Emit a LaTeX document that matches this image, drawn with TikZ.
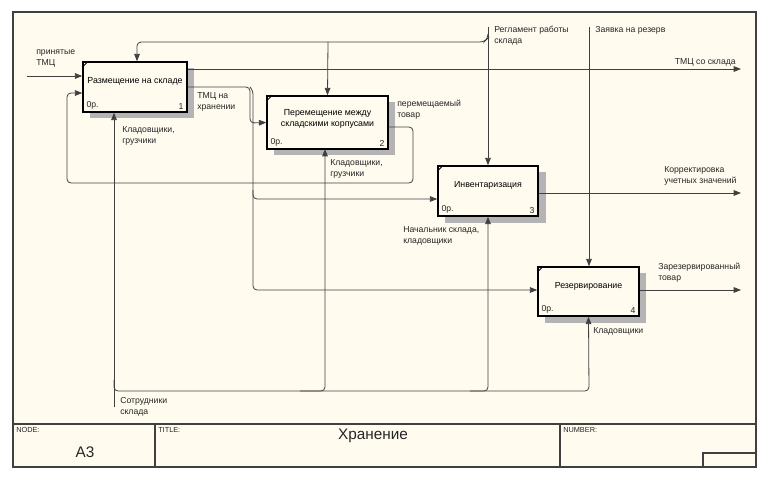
\documentclass[tikz,border=0pt]{standalone}
\usepackage{fontspec}
\setmainfont{Liberation Sans}
\usetikzlibrary{arrows.meta,calc}
\definecolor{paper}{HTML}{FFFBEF}
\definecolor{ln}{HTML}{404040}
\definecolor{shd}{HTML}{B4B4B4}
\begin{document}
\begin{tikzpicture}[x=0.75pt,y=-0.75pt,
 lbl/.style={font=\fontsize{6.5}{8.2}\selectfont, align=left, inner sep=0pt, text=black!85},
 pbox/.style={draw=black, line width=1.1pt, fill=paper, inner sep=0pt, font=\fontsize{6.6}{8.4}\selectfont, align=center},
 shadow/.style={fill=shd, draw=none},
 arr/.style={draw=ln, line width=0.6pt, -{Triangle[length=5.5pt,width=4.2pt]}},
 conn/.style={draw=ln, line width=0.6pt},
 rc/.style={rounded corners=3pt},
 frm/.style={draw=ln, line width=0.8pt}]
\useasboundingbox (0,0) rectangle (768,480);
\fill[white] (0,0) rectangle (768,480);
% frame
\draw[frm, fill=paper] (13,12) rectangle (756,467);
\draw[frm] (13,424) -- (756,424);
\draw[frm] (155,424) -- (155,467);
\draw[frm] (560,424) -- (560,467);
\draw[frm] (703,453) rectangle (756,467);
\node[lbl, anchor=north west, font=\fontsize{5.5}{6}\selectfont] (tnode) at (16,427) {NODE:};
\node[lbl, anchor=north west, font=\fontsize{5.5}{6}\selectfont] (ttitle) at (158,427) {TITLE:};
\node[lbl, anchor=north west, font=\fontsize{5.5}{6}\selectfont] (tnum) at (563,427) {NUMBER:};
\node[lbl, font=\fontsize{11.5}{12}\selectfont] (tA) at (85,452) {A3};
\node[lbl, font=\fontsize{11.5}{12}\selectfont] (tT) at (373,436) {Хранение};
% shadows
\fill[shadow] (90,68) rectangle (194,118);
\fill[shadow] (274,102) rectangle (395,155);
\fill[shadow] (445,172) rectangle (546,223);
\fill[shadow] (545,273) rectangle (646,323);
% boxes
\node[pbox, minimum width=78pt, minimum height=37.5pt] (b1) at (135,87) {Размещение на складе\\[1pt]\mbox{}};
\node[pbox, minimum width=90.75pt, minimum height=39.75pt] (b2) at (327.5,122.5) {Перемещение между\\складскими корпусами\\[-2pt]\mbox{}};
\node[pbox, minimum width=75pt, minimum height=37.5pt] (b3) at (488,191) {Инвентаризация\\[1pt]\mbox{}};
\node[pbox, minimum width=75.75pt, minimum height=36.75pt] (b4) at (588.5,291.5) {Резервирование\\[1pt]\mbox{}};
\foreach \b/\n in {b1/1,b2/2,b3/3,b4/4}{
  \node[lbl, anchor=south west] (\b o) at ($(\b.south west)+(4,-3)$) {0р.};
  \node[lbl, anchor=south east] (\b n) at ($(\b.south east)+(-4,-3)$) {\n};
  \draw[black, line width=0.6pt] ($(\b.north west)+(0,6)$) -- ($(\b.north west)+(6,0)$);
}
% free ends
\coordinate (in1) at (27,76);
\coordinate (oR) at (741,0);
\coordinate (c1) at (488,27);
\coordinate (c2) at (589,27);
\coordinate (m1) at (114,407);
\coordinate (o1s) at ($(b1.east)+(0,-18)$);
\coordinate (o3s) at ($(b3.east)+(0,2)$);
\coordinate (o4s) at ($(b4.east)+(0,-1.5)$);
\coordinate (o2s) at ($(b2.east)+(0,4.5)$);
\coordinate (i1b) at ($(b1.west)+(0,6)$);
\coordinate (i3) at ($(b3.west)+(0,8)$);
\coordinate (i4) at ($(b4.west)+(0,-1.5)$);
% inputs / outputs
\draw[arr] (in1) -- (in1 -| b1.west);
\draw[arr] (o1s) -- (o1s -| oR);
\draw[arr, rc] (b1.east) -- (250,87) -- (250,123) -- (b2.west);
\draw[arr, rc] (250,87) -- (253,90) -- (253,199) -- (i3);
\draw[arr, rc] (253,190) -- (253,290) -- (i4);
\draw[arr, rc] (o2s) -- (413,127) -- (413,183) -- (67,183) -- (67,93) -- (i1b);
\draw[arr] (o3s) -- (o3s -| oR);
\draw[arr] (o4s) -- (o4s -| oR);
% controls
\draw[arr] (c1) -- (c1 |- b3.north);
\draw[arr, rc] (488,34) -- (488,38) -- (484,42) -- (137,42) -- ($(b1.north)+(2,0)$);
\draw[arr] (328,42) -- (b2.north);
\draw[arr] (c2) -- (c2 |- b4.north);
% mechanisms
\draw[arr] (m1) -- (m1 |- b1.south);
\draw[arr, rc] (114,380) -- (114,391) -- (325,391) -- (325,149);
\draw[arr, rc] (300,391) -- (488,391) -- (b3.south);
\draw[arr, rc] (470,391) -- (589,391) -- (b4.south);
% labels
\node[lbl, anchor=north west] (l1) at (36,50) {принятые\\ТМЦ};
\node[lbl, anchor=north west] (l2) at (197,92) {ТМЦ на\\хранении};
\node[lbl, anchor=north west] (l3) at (122,126) {Кладовщики,\\грузчики};
\node[lbl, anchor=north west] (l4) at (397,100) {перемещаемый\\товар};
\node[lbl, anchor=north west] (l5) at (330,159) {Кладовщики,\\грузчики};
\node[lbl, anchor=north west] (l6) at (494,26) {Регламент работы\\склада};
\node[lbl, anchor=north west] (l7) at (595,26) {Заявка на резерв};
\node[lbl, anchor=north east] (l8) at (736,58) {ТМЦ со склада};
\node[lbl, anchor=north west] (l9) at (664,166) {Корректировка\\учетных значений};
\node[lbl, anchor=north west] (l10) at (403,226) {Начальник склада,\\кладовщики};
\node[lbl, anchor=north west] (l11) at (658,263) {Зарезервированный\\товар};
\node[lbl, anchor=north west] (l12) at (593,327) {Кладовщики};
\node[lbl, anchor=north west] (l13) at (120,397) {Сотрудники\\склада};
\end{tikzpicture}
\end{document}
